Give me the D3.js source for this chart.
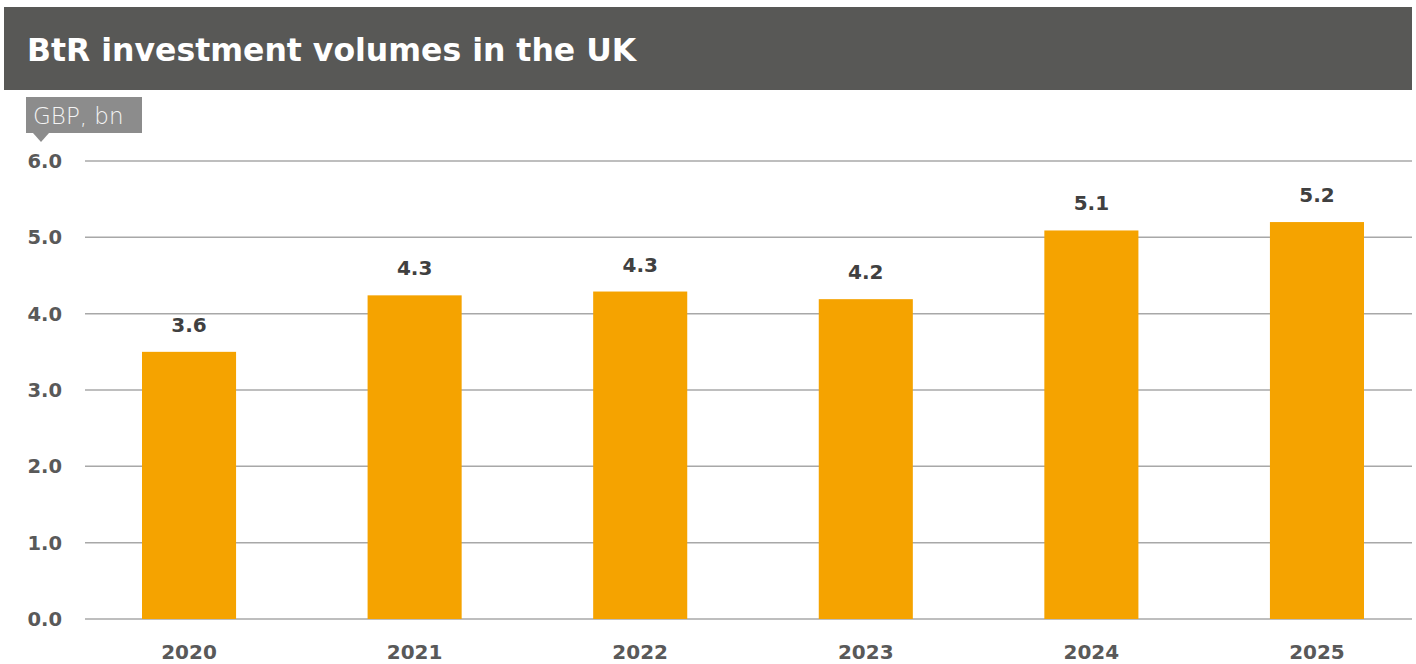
<!DOCTYPE html>
<html>
<head>
<meta charset="utf-8">
<script src="https://cdn.jsdelivr.net/npm/d3@7"></script>
<style>
  body { margin: 0; background: #fff; }
  svg { display: block; font-family: "DejaVu Sans", sans-serif; }
</style>
</head>
<body>
<svg id="chart" width="1416" height="664"></svg>
<script>
// chart data
const years = ['2020', '2021', '2022', '2023', '2024', '2025'];
const volumes = [3.5, 4.24, 4.29, 4.19, 5.09, 5.2];
const valueLabels = ['3.6', '4.3', '4.3', '4.2', '5.1', '5.2'];
const yTicks = [0, 1, 2, 3, 4, 5, 6];

const title = 'BtR investment volumes in the UK';
const unitLabel = 'GBP, bn';

const svg = d3.select('#chart');

// title banner
svg.append('rect')
  .attr('x', 4).attr('y', 7)
  .attr('width', 1408).attr('height', 83)
  .attr('fill', '#585856');
svg.append('text')
  .attr('x', 27).attr('y', 61)
  .attr('fill', '#fff')
  .attr('font-size', 31.5)
  .attr('font-weight', 'bold')
  .text(title);

// scales
const x = d3.scaleBand()
  .domain(years)
  .range([142, 1364])
  .paddingInner(0.583)
  .paddingOuter(0);

const y = d3.scaleLinear()
  .domain([0, 6])
  .range([619, 161]);

// gridlines
svg.append('g')
  .selectAll('line')
  .data(yTicks)
  .join('line')
  .attr('x1', 85).attr('x2', 1412)
  .attr('y1', d => y(d)).attr('y2', d => y(d))
  .attr('stroke', '#a8a8a8')
  .attr('stroke-width', 1.5);

// y axis labels
svg.append('g')
  .selectAll('text')
  .data(yTicks)
  .join('text')
  .attr('x', 62)
  .attr('y', d => y(d) + 7)
  .attr('text-anchor', 'end')
  .attr('font-size', 19.5)
  .attr('font-weight', 'bold')
  .attr('fill', '#595959')
  .text(d => d3.format('.1f')(d));

// unit callout
const unit = svg.append('g');
unit.append('rect')
  .attr('x', 26).attr('y', 97)
  .attr('width', 116).attr('height', 36)
  .attr('fill', '#8c8c8c');
unit.append('path')
  .attr('d', 'M33,133 L49,133 L41,142 Z')
  .attr('fill', '#8c8c8c');
unit.append('text')
  .attr('x', 33).attr('y', 124)
  .attr('font-size', 23)
  .attr('font-weight', 200)
  .attr('fill', '#f4f4f4')
  .text(unitLabel);

// bars
svg.append('g')
  .selectAll('rect')
  .data(volumes)
  .join('rect')
  .attr('x', (d, i) => x(years[i]))
  .attr('y', d => y(d))
  .attr('width', x.bandwidth())
  .attr('height', d => y(0) - y(d))
  .attr('fill', '#f5a300');

// value labels
svg.append('g')
  .selectAll('text')
  .data(volumes)
  .join('text')
  .attr('x', (d, i) => x(years[i]) + x.bandwidth() / 2)
  .attr('y', d => y(d) - 20)
  .attr('text-anchor', 'middle')
  .attr('font-size', 20)
  .attr('font-weight', 'bold')
  .attr('fill', '#404040')
  .text((d, i) => valueLabels[i]);

// x axis labels
svg.append('g')
  .selectAll('text')
  .data(years)
  .join('text')
  .attr('x', d => x(d) + x.bandwidth() / 2)
  .attr('y', 659)
  .attr('text-anchor', 'middle')
  .attr('font-size', 20)
  .attr('font-weight', 'bold')
  .attr('fill', '#595959')
  .text(d => d);
</script>
</body>
</html>
